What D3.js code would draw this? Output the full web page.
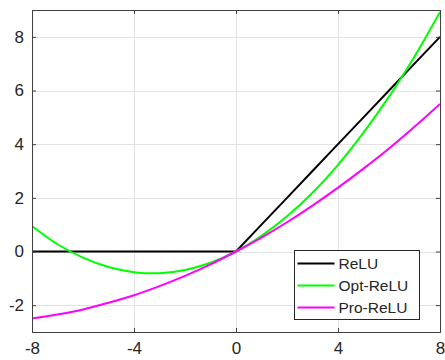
<!DOCTYPE html>
<html>
<head>
<meta charset="utf-8">
<script src="https://cdn.jsdelivr.net/npm/d3@7"></script>
<style>
  body { margin: 0; background: #fff; }
  text { font-family: "Liberation Sans", Arial, sans-serif; fill: #262626; }
</style>
</head>
<body>
<div id="chart"></div>
<script>
// values at integer x
const xValues = [-8, -7, -6, -5, -4, -3, -2, -1, 0, 1, 2, 3, 4, 5, 6, 7, 8];
const reluValues = [0, 0, 0, 0, 0, 0, 0, 0, 0, 1, 2, 3, 4, 5, 6, 7, 8];
const optReluValues = [0.95, 0.27, -0.23, -0.58, -0.77, -0.81, -0.69, -0.42, 0, 0.58, 1.31, 2.19, 3.23, 4.43, 5.77, 7.27, 8.93];
const proReluValues = [-2.5, -2.35, -2.16, -1.91, -1.63, -1.29, -0.91, -0.48, 0, 0.52, 1.09, 1.71, 2.38, 3.09, 3.84, 4.65, 5.5];
const seriesNames = ["ReLU", "Opt-ReLU", "Pro-ReLU"];
const seriesColors = ["#000000", "#00ff00", "#ff00ff"];
const xTicks = [-8, -4, 0, 4, 8];
const yTicks = [-2, 0, 2, 4, 6, 8];

const width = 445, height = 360;
const margin = { top: 10, right: 5, bottom: 28, left: 32 };

const svg = d3.select("#chart").append("svg")
  .attr("width", width)
  .attr("height", height);

const x = d3.scaleLinear().domain([-8, 8]).range([margin.left, width - margin.right]);
const y = d3.scaleLinear().domain([-3, 9]).range([height - margin.bottom, margin.top]);

// grid
const grid = svg.append("g").attr("stroke", "#e3e3e3").attr("stroke-width", 1);
grid.selectAll(".gx").data(xTicks).enter().append("line")
  .attr("x1", d => Math.round(x(d)) + 0.5).attr("x2", d => Math.round(x(d)) + 0.5)
  .attr("y1", y(-3)).attr("y2", y(9));
grid.selectAll(".gy").data(yTicks).enter().append("line")
  .attr("y1", d => Math.round(y(d)) + 0.5).attr("y2", d => Math.round(y(d)) + 0.5)
  .attr("x1", x(-8)).attr("x2", x(8));

// curves
svg.append("clipPath").attr("id", "clip").append("rect")
  .attr("x", x(-8)).attr("y", y(9))
  .attr("width", x(8) - x(-8)).attr("height", y(-3) - y(9));

const series = [reluValues, optReluValues, proReluValues];
const plot = svg.append("g").attr("clip-path", "url(#clip)");
series.forEach((vals, i) => {
  const line = d3.line()
    .x((d, j) => x(xValues[j]))
    .y(d => y(d))
    .curve(i === 0 ? d3.curveLinear : d3.curveCatmullRom.alpha(0.5));
  plot.append("path")
    .datum(vals)
    .attr("fill", "none")
    .attr("stroke", seriesColors[i])
    .attr("stroke-width", 2)
    .attr("d", line);
});

// axes box with inward ticks
const axisColor = "#404040";
const tickLen = 4;
const fmt = d => String(d); // plain hyphen minus like the reference
const bottomAxis = d3.axisBottom(x).tickValues(xTicks).tickSize(-tickLen).tickPadding(10).tickFormat(fmt);
const leftAxis = d3.axisLeft(y).tickValues(yTicks).tickSize(-tickLen).tickPadding(8).tickFormat(fmt);
const topAxis = d3.axisTop(x).tickValues(xTicks).tickSize(-tickLen).tickFormat("");
const rightAxis = d3.axisRight(y).tickValues(yTicks).tickSize(-tickLen).tickFormat("");

function style(g) {
  g.select(".domain").attr("stroke", axisColor);
  g.selectAll(".tick line").attr("stroke", axisColor);
  g.selectAll(".tick text").attr("font-size", 17).attr("fill", "#262626")
    .attr("font-family", "Liberation Sans, Arial, sans-serif");
}

svg.append("g").attr("transform", `translate(0,${y(-3)})`).call(bottomAxis).call(style);
svg.append("g").attr("transform", `translate(${x(-8)},0)`).call(leftAxis).call(style);
svg.append("g").attr("transform", `translate(0,${y(9)})`).call(topAxis).call(style);
svg.append("g").attr("transform", `translate(${x(8)},0)`).call(rightAxis).call(style);

// legend
const legend = svg.append("g").attr("transform", "translate(294.5,250.5)");
legend.append("rect")
  .attr("width", 125).attr("height", 69)
  .attr("fill", "#fff").attr("stroke", "#262626").attr("stroke-width", 1);
seriesNames.forEach((name, i) => {
  const ry = 13 + i * 22;
  legend.append("line")
    .attr("x1", 3).attr("x2", 40).attr("y1", ry).attr("y2", ry)
    .attr("stroke", seriesColors[i]).attr("stroke-width", 2);
  legend.append("text")
    .attr("x", 44).attr("y", ry).attr("dy", "0.36em")
    .attr("font-size", 15.5)
    .text(name);
});
</script>
</body>
</html>
